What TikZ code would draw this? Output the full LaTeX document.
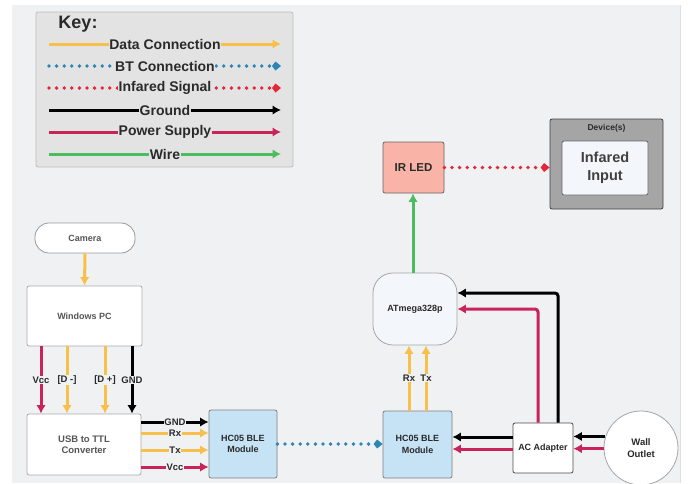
\documentclass[tikz,border=0pt]{standalone}
\usepackage{fontspec}
\setmainfont{Liberation Sans}
\usetikzlibrary{arrows.meta}
\definecolor{bg}{HTML}{F0F1F3}
\definecolor{keyfill}{HTML}{E3E3E3}
\definecolor{keyline}{HTML}{BDBDBD}
\definecolor{cdata}{HTML}{F7C04A}
\definecolor{cbt}{HTML}{2B86B5}
\definecolor{cir}{HTML}{E3263A}
\definecolor{cpow}{HTML}{C8245A}
\definecolor{cwire}{HTML}{4DBB5F}
\definecolor{hcfill}{HTML}{C6E2F5}
\definecolor{ledfill}{HTML}{F9B3A7}
\definecolor{devfill}{HTML}{A5A5A5}
\definecolor{inner}{HTML}{F3F7FB}
\definecolor{txtgrey}{HTML}{555555}
\definecolor{txtdark}{HTML}{2A2A2A}
\begin{document}
\begin{tikzpicture}[x=1pt,y=-1pt,font=\bfseries,
  box/.style={draw, rounded corners=2pt, align=center, inner sep=0pt, line width=0.8pt, text=txtdark},
  lightbox/.style={box, draw=keyline!90!black, fill=white, text=txtgrey},
  wire/.style={line width=3pt},
  tipL/.style={-{Latex[length=8.5pt,width=9.5pt]}},
  tipK/.style={-{Kite[length=9pt,width=9pt,inset=3.5pt]}},
  data/.style={wire, draw=cdata, tipL},
  gnd/.style={wire, draw=black, tipL},
  pow/.style={wire, draw=cpow, tipL},
  grn/.style={wire, draw=cwire, tipL},
  bt/.style={line width=3.8pt, draw=cbt, dash pattern=on 0pt off 7.6pt, line cap=round, tipK},
  irs/.style={line width=3.8pt, draw=cir, dash pattern=on 0pt off 7.6pt, line cap=round, tipK},
  lbl/.style={fill=bg, inner sep=0.6pt, font=\bfseries\fontsize{9.5}{10}\selectfont, text=txtdark},
  klbl/.style={fill=keyfill, inner sep=0.6pt, font=\bfseries\fontsize{14}{15}\selectfont, text=txtdark}]
\useasboundingbox (0,0) rectangle (689,483);
\fill[white] (0,0) rectangle (689,483);
\fill[bg] (12,5) rectangle (680,483);
\draw[black!12, line width=1pt] (680.5,5) -- (680.5,483);

% ---------- Key ----------
\node[draw=keyline, fill=keyfill, rounded corners=2pt, line width=0.8pt, minimum width=257pt, minimum height=155pt, inner sep=0pt] (key) at (164.5,89.5) {};
\node[font=\bfseries\fontsize{18}{20}\selectfont, text=txtdark] (keyt) at (78,24) {Key:};
\coordinate (k1a) at (49,44);  \coordinate (k1b) at (281,44);
\coordinate (k2a) at (49,66);  \coordinate (k2b) at (281,66);
\coordinate (k3a) at (49,88);  \coordinate (k3b) at (281,88);
\coordinate (k4a) at (49,110); \coordinate (k4b) at (281,110);
\coordinate (k5a) at (49,132); \coordinate (k5b) at (281,132);
\coordinate (k6a) at (49,154); \coordinate (k6b) at (281,154);
\draw[data] (k1a) -- node[klbl]{Data Connection} (k1b);
\draw[bt] (k2a) -- node[klbl]{BT Connection} (k2b);
\draw[irs] (k3a) -- node[klbl]{Infared Signal} (k3b);
\draw[gnd] (k4a) -- node[klbl]{Ground} (k4b);
\draw[pow] (k5a) -- node[klbl]{Power Supply} (k5b);
\draw[grn] (k6a) -- node[klbl]{Wire} (k6b);

% ---------- Nodes ----------
\node[draw=black!40, fill=white, rounded corners=14pt, minimum width=100pt, minimum height=30pt, inner sep=0pt, line width=0.8pt, text=txtgrey, font=\bfseries\fontsize{9}{10}\selectfont] (cam) at (85,238) {Camera};
\node[lightbox, minimum width=115pt, minimum height=60pt, font=\bfseries\fontsize{9}{10}\selectfont] (pc) at (84.5,316) {Windows PC};
\node[lightbox, minimum width=114pt, minimum height=61pt, font=\bfseries\fontsize{9.5}{11.5}\selectfont] (usb) at (84,444.5) {USB to TTL\\Converter};
\node[box, draw=black!50, fill=hcfill, minimum width=68pt, minimum height=68pt, font=\bfseries\fontsize{9}{11.5}\selectfont] (hca) at (243,444) {HC05 BLE\\Module};
\node[box, draw=black!50, fill=hcfill, minimum width=69pt, minimum height=67pt, font=\bfseries\fontsize{9}{11.5}\selectfont] (hcb) at (417.5,444.5) {HC05 BLE\\Module};
\node[box, draw=black!70, fill=white, minimum width=60pt, minimum height=50pt, font=\bfseries\fontsize{9}{10}\selectfont] (ac) at (543,448) {AC Adapter};
\node[draw=black!35, fill=white, circle, minimum size=74pt, inner sep=0pt, line width=0.8pt, align=center, text=txtdark, font=\bfseries\fontsize{9.5}{11.5}\selectfont] (wall) at (641,448) {Wall\\Outlet};
\node[draw=black!35, fill=inner, rounded corners=20pt, minimum width=84pt, minimum height=72pt, inner sep=0pt, line width=0.8pt, text=txtdark, font=\bfseries\fontsize{9}{10}\selectfont] (atm) at (415,309) {ATmega328p};
\node[box, draw=black!60, fill=ledfill, minimum width=61pt, minimum height=51pt, font=\bfseries\fontsize{11.5}{12}\selectfont] (led) at (413.5,167.5) {IR LED};
\node[box, draw=black!75, fill=devfill, minimum width=113pt, minimum height=90pt] (dev) at (606.5,164) {};
\node[font=\bfseries\fontsize{8.5}{9}\selectfont, text=txtdark] (devt) at (606.5,128.5) {Device(s)};
\node[box, draw=black!60, fill=inner, minimum width=86pt, minimum height=54pt, font=\bfseries\fontsize{14.5}{18}\selectfont, text=black!75] (ir) at (605,168) {Infared\\Input};

% ---------- Connectors ----------
\draw[data] (cam.south) -- (pc.north);
\draw[pow]  (41,0 |- pc.south)  -- node[lbl]{Vcc}    (41,0 |- usb.north);
\draw[data] (67,0 |- pc.south)  -- node[lbl]{[D -]}  (67,0 |- usb.north);
\draw[data] (105,0 |- pc.south) -- node[lbl]{[D +]}  (105,0 |- usb.north);
\draw[gnd]  (132,0 |- pc.south) -- node[lbl]{GND}    (132,0 |- usb.north);

\draw[gnd]  (usb.east |- 0,422) -- node[lbl]{GND} (hca.west |- 0,422);
\draw[data] (usb.east |- 0,433) -- node[lbl]{Rx}  (hca.west |- 0,433);
\draw[data] (usb.east |- 0,450) -- node[lbl]{Tx}  (hca.west |- 0,450);
\draw[pow]  (usb.east |- 0,467) -- node[lbl]{Vcc} (hca.west |- 0,467);

\draw[bt] (hca.east) -- (hcb.west |- hca.east);

\draw[data] (409,0 |- hcb.north) -- node[lbl]{Rx} (409,0 |- atm.south);
\draw[data] (426,0 |- hcb.north) -- node[lbl]{Tx} (426,0 |- atm.south);

\draw[gnd] (ac.west |- 0,437) -- (hcb.east |- 0,437);
\draw[pow] (ac.west |- 0,449) -- (hcb.east |- 0,449);
\draw[gnd] (wall.162.7) -- (ac.east |- wall.162.7);
\draw[pow] (wall.181.5) -- (ac.east |- wall.181.5);

\draw[gnd, rounded corners=3pt] (558,0 |- ac.north) |- (atm.east |- 0,293);
\draw[pow, rounded corners=3pt] (538,0 |- ac.north) |- (atm.east |- 0,309);

\draw[grn] (413,0 |- atm.north) -- (413,0 |- led.south);
\draw[irs] (led.east) -- (dev.west |- led.east);
\end{tikzpicture}
\end{document}
